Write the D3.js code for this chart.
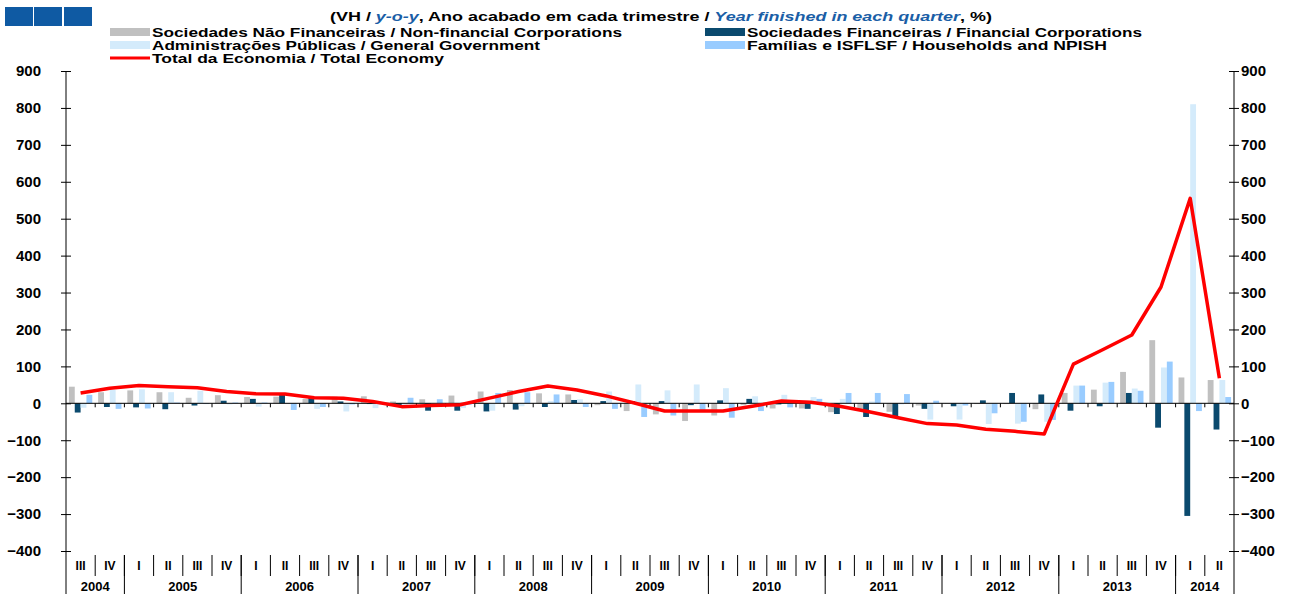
<!DOCTYPE html>
<html>
<head>
<meta charset="utf-8">
<script src="https://cdn.jsdelivr.net/npm/d3@7"></script>
<style>
  body { margin: 0; background: #fff; }
  svg { display: block; font-family: "Liberation Sans", Arial, sans-serif; font-weight: bold; }
</style>
</head>
<body>
<svg id="chart" width="1296" height="594"></svg>
<script>
// quarters from 2004 III to 2014 II
var quarters = ["III","IV",
  "I","II","III","IV", "I","II","III","IV", "I","II","III","IV",
  "I","II","III","IV", "I","II","III","IV", "I","II","III","IV",
  "I","II","III","IV", "I","II","III","IV", "I","II","III","IV",
  "I","II"];
var years = ["2004","2005","2006","2007","2008","2009","2010","2011","2012","2013","2014"];
var yearCounts = [2,4,4,4,4,4,4,4,4,4,2];
var yTicks = [-400,-300,-200,-100,0,100,200,300,400,500,600,700,800,900];

var seriesNames = [
  "Sociedades Não Financeiras / Non-financial Corporations",
  "Sociedades Financeiras / Financial Corporations",
  "Administrações Públicas / General Government",
  "Famílias e ISFLSF / Households and NPISH"
];
var lineName = "Total da Economia / Total Economy";

var nonFinancial = [45,30,35,30,15,22,17,18,12,18,19,5,11,21,32,36,27,24,-5,-21,
  -30,-48,-33,-5,-14,-14,-24,-20,-23,-6,-1,-2,-2,-16,28,37,85,171,70,63];
var financial = [-25,-10,-11,-16,-6,7,12,23,18,5,-2,-6,-20,-20,-22,-17,-10,9,6,6,
  6,-5,8,12,-3,-15,-29,-37,-38,-15,-8,8,28,24,-20,-8,28,-66,-305,-71];
var government = [-12,36,38,30,34,-3,-9,-2,-15,-22,-13,-4,-2,-13,-20,-8,6,11,32,51,
  35,51,41,19,23,17,12,5,-3,-44,-44,-56,-55,-50,48,56,40,97,810,63];
var households = [23,-15,-14,2,-2,2,2,-18,-10,-3,-3,15,11,-4,28,30,24,-10,-15,-37,
  -33,-18,-39,-21,-11,12,28,28,25,7,-6,-27,-50,-45,48,58,34,113,-21,17];
var totalEconomy = [28,41,48,45,42,32,26,25,15,14,5,-9,-6,-4,14,32,47,36,20,0,
  -21,-21,-21,-8,6,3,-8,-23,-39,-55,-59,-70,-76,-83,106,145,185,315,555,68];

var colors = ["#c0c0c0","#0b4a6e","#d4ebfb","#99ccff"];

var svg = d3.select('#chart');

var x0 = d3.scaleBand().domain(d3.range(quarters.length)).range([66,1234])
  .paddingInner(0.2).paddingOuter(0.1);
var x1 = d3.scaleBand().domain(d3.range(4)).range([0, x0.bandwidth()]);
var y = d3.scaleLinear().domain([-400,900]).range([551,71]);

function boundary(i) { return x0.range()[0] + i * x0.step(); }

// header boxes
svg.append('g').selectAll('rect').data([5,34,64]).join('rect')
  .attr('x', d => d).attr('y', 7).attr('width', 28).attr('height', 19)
  .attr('fill', '#0f5aa3');

// title
var title = svg.append('text').attr('x', 330).attr('y', 21)
  .attr('font-size', '13px').attr('fill', '#000')
  .attr('textLength', 662).attr('lengthAdjust', 'spacingAndGlyphs');
title.append('tspan').text('(VH / ');
title.append('tspan').attr('font-style','italic').attr('fill','#1a5ea6').text('y-o-y');
title.append('tspan').text(', Ano acabado em cada trimestre / ');
title.append('tspan').attr('font-style','italic').attr('fill','#1a5ea6').text('Year finished in each quarter');
title.append('tspan').text(', %)');

// legend
var legendItems = [
  {name: seriesNames[0], color: colors[0], x: 110, y: 32, w: 470},
  {name: seriesNames[1], color: colors[1], x: 705, y: 32, w: 395},
  {name: seriesNames[2], color: colors[2], x: 110, y: 45, w: 388},
  {name: seriesNames[3], color: colors[3], x: 705, y: 45, w: 360}
];
var lg = svg.append('g');
legendItems.forEach(function(d) {
  lg.append('rect').attr('x', d.x).attr('y', d.y - 4).attr('width', 40).attr('height', 8)
    .attr('fill', d.color);
  lg.append('text').attr('x', d.x + 42).attr('y', d.y + 5).attr('font-size', '12px')
    .attr('textLength', d.w).attr('lengthAdjust', 'spacingAndGlyphs').text(d.name);
});
lg.append('line').attr('x1', 110).attr('x2', 150).attr('y1', 58).attr('y2', 58)
  .attr('stroke', '#ff0000').attr('stroke-width', 3);
lg.append('text').attr('x', 152).attr('y', 63).attr('font-size', '12px')
  .attr('textLength', 292).attr('lengthAdjust', 'spacingAndGlyphs').text(lineName);

// y axes
var leftAxis = svg.append('g').attr('transform', 'translate(66,0)')
  .call(d3.axisLeft(y).tickValues(yTicks).tickSizeInner(5).tickSizeOuter(0).tickPadding(20));
var rightAxis = svg.append('g').attr('transform', 'translate(1234,0)')
  .call(d3.axisRight(y).tickValues(yTicks).tickSizeInner(5).tickSizeOuter(0).tickPadding(2));
[leftAxis, rightAxis].forEach(function(a, k) {
  a.select('.domain').remove();
  a.selectAll('.tick line').attr('stroke', '#000');
  a.selectAll('.tick').append('line').attr('x2', k === 0 ? 5 : -5).attr('stroke', '#000');
  a.selectAll('.tick text').attr('font-size', '15px').attr('font-family', '"Liberation Sans", Arial, sans-serif')
    .attr('font-weight', 'bold').attr('fill', '#000');
});
svg.append('line').attr('x1', 66).attr('x2', 66).attr('y1', 71).attr('y2', 594).attr('stroke', '#000');
svg.append('line').attr('x1', 1234).attr('x2', 1234).attr('y1', 71).attr('y2', 594).attr('stroke', '#000');

// bars
var seriesData = [nonFinancial, financial, government, households];
seriesData.forEach(function(vals, s) {
  svg.append('g').selectAll('rect').data(vals).join('rect')
    .attr('x', (d, i) => x0(i) + x1(s))
    .attr('width', x1.bandwidth())
    .attr('y', d => y(Math.max(0, d)))
    .attr('height', d => Math.abs(y(d) - y(0)))
    .attr('fill', colors[s]);
});

// zero line with quarter ticks
svg.append('line').attr('x1', 66).attr('x2', 1234).attr('y1', y(0)).attr('y2', y(0))
  .attr('stroke', '#000');
svg.append('g').selectAll('line').data(d3.range(1, quarters.length)).join('line')
  .attr('x1', i => boundary(i)).attr('x2', i => boundary(i))
  .attr('y1', y(0)).attr('y2', y(0) + 4).attr('stroke', '#000');

// total line
svg.append('path').datum(totalEconomy)
  .attr('d', d3.line().x((d, i) => x0(i) + x0.bandwidth() / 2).y(d => y(d)))
  .attr('fill', 'none').attr('stroke', '#ff0000').attr('stroke-width', 3.5)
  .attr('stroke-linejoin', 'round');

// category axis: quarters
var cat = svg.append('g');
cat.selectAll('text.q').data(quarters).join('text').attr('class', 'q')
  .attr('x', (d, i) => x0(i) + x0.bandwidth() / 2).attr('y', 570)
  .attr('text-anchor', 'middle').attr('font-size', '12px').text(d => d);
cat.selectAll('line.q').data(d3.range(1, quarters.length)).join('line').attr('class', 'q')
  .attr('x1', i => boundary(i)).attr('x2', i => boundary(i))
  .attr('y1', 555).attr('y2', 576).attr('stroke', '#000');

// category axis: years
var starts = [];
yearCounts.reduce(function(acc, c) { starts.push(acc); return acc + c; }, 0);
cat.selectAll('text.y').data(years).join('text').attr('class', 'y')
  .attr('x', (d, i) => (boundary(starts[i]) + boundary(starts[i] + yearCounts[i])) / 2)
  .attr('y', 591).attr('text-anchor', 'middle').attr('font-size', '13px').text(d => d);
cat.selectAll('line.y').data(starts.slice(1)).join('line').attr('class', 'y')
  .attr('x1', i => boundary(i)).attr('x2', i => boundary(i))
  .attr('y1', 555).attr('y2', 594).attr('stroke', '#000');
</script>
</body>
</html>
